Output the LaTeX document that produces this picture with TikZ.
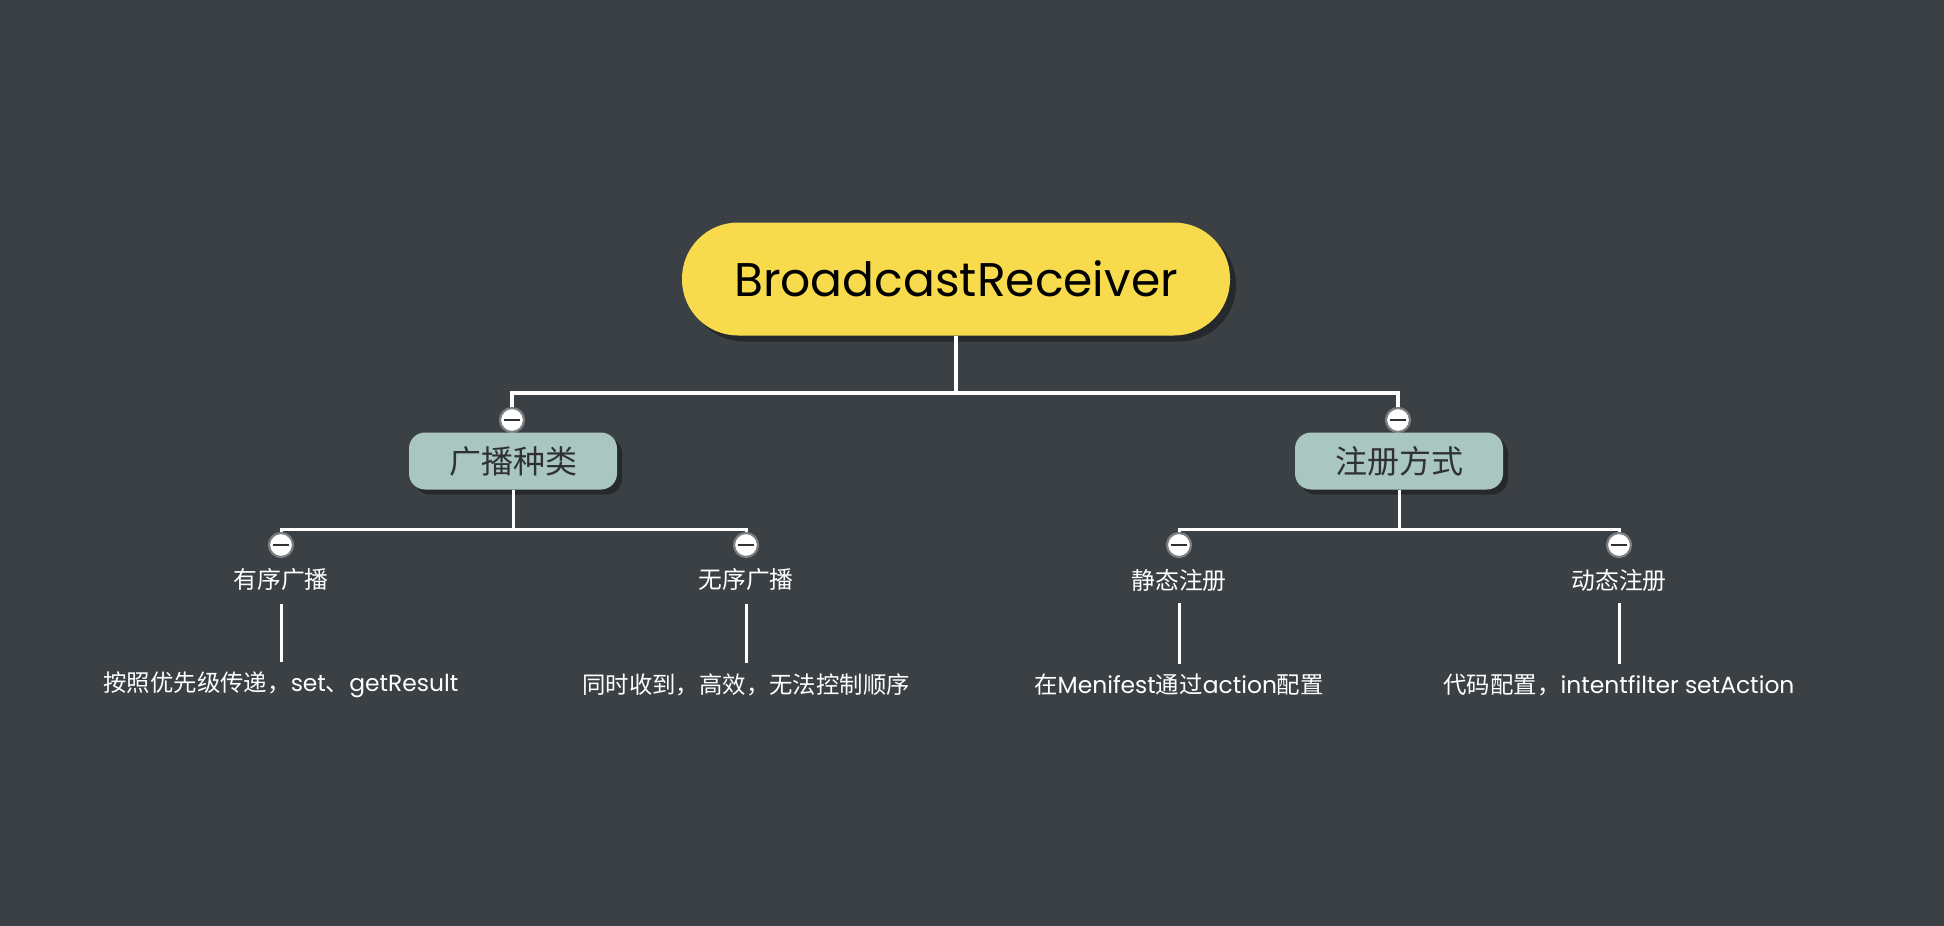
\documentclass[tikz,border=0pt]{standalone}
\usepackage{fontspec}
\setmainfont{Poppins}
\newfontfamily\cjk{Noto Sans CJK SC}
\usetikzlibrary{shadows}

\definecolor{bgcol}{HTML}{3B4044}
\definecolor{rootcol}{HTML}{F7DB4C}
\definecolor{topiccol}{HTML}{A9C6C1}
\definecolor{inkcol}{HTML}{2F3133}
\definecolor{knobline}{HTML}{7C7F82}

\tikzset{
  rootbox/.style={fill=rootcol, text=black, rounded corners=28pt,
    minimum width=274pt, minimum height=56.5pt,
    font=\fontsize{23.6}{27}\selectfont,
    drop shadow={shadow xshift=3pt, shadow yshift=-3pt, fill=black, opacity=0.35}},
  topicbox/.style={fill=topiccol, text=inkcol, rounded corners=8pt,
    minimum width=104pt, minimum height=28.5pt,
    font=\cjk\fontsize{16}{19}\selectfont,
    drop shadow={shadow xshift=2.5pt, shadow yshift=-2.5pt, fill=black, opacity=0.35}},
  subtopic/.style={text=white, inner sep=2pt, font=\cjk\fontsize{11.9}{14}\selectfont},
  leaftext/.style={text=white, inner sep=2pt, font=\fontsize{11.7}{14}\selectfont},
  knob/.style={circle, draw=knobline, fill=white, line width=1.1pt,
    minimum size=12pt, inner sep=0pt,
    path picture={\draw[inkcol, line width=1.2pt]
      ([xshift=-4.2pt]path picture bounding box.center) --
      ([xshift=4.2pt]path picture bounding box.center);}},
  branch/.style={draw=white, line width=2pt},
  twig/.style={draw=white, line width=1.5pt}
}

\begin{document}
\begin{tikzpicture}[x=0.5pt, y=-0.5pt]
    % Background
    \fill[bgcol] (0,0) rectangle (1944,926);
    \useasboundingbox (0,0) rectangle (1944,926);

    % Central topic
    \node[rootbox] (root) at (956,279) {BroadcastReceiver};

    % Main topics
    \node[knob] (k1) at (512,420) {};
    \node[knob] (k2) at (1398,420) {};
    \node[topicbox] (t1) at (513,461) {广播种类};
    \node[topicbox] (t2) at (1399,461) {注册方式};

    \coordinate (j0) at (956,393);
    \draw[branch] (root.south) -- (j0);
    \draw[branch] (k1.north) |- (j0) -| (k2.north);

    % Sub topics
    \node[knob] (k11) at (281,545) {};
    \node[knob] (k12) at (746,545) {};
    \node[knob] (k21) at (1179,545) {};
    \node[knob] (k22) at (1619,545) {};

    \node[subtopic] (s11) at (281,580) {有序广播};
    \node[subtopic] (s12) at (746,580) {无序广播};
    \node[subtopic] (s21) at (1179,580) {静态注册};
    \node[subtopic] (s22) at (1619,580) {动态注册};

    \coordinate (j1) at (513,529);
    \coordinate (j2) at (1399,529);
    \draw[twig] (t1.south) -- (j1);
    \draw[twig] (k11.north) |- (j1) -| (k12.north);
    \draw[twig] (t2.south) -- (j2);
    \draw[twig] (k21.north) |- (j2) -| (k22.north);

    % Details
    \node[leaftext] (l11) at (281,685) {{\cjk 按照优先级传递，}set{\cjk 、}getResult};
    \node[leaftext] (l12) at (746,685) {\cjk 同时收到，高效，无法控制顺序};
    \node[leaftext] (l21) at (1179,685) {{\cjk 在}Menifest{\cjk 通过}action{\cjk 配置}};
    \node[leaftext] (l22) at (1619,685) {{\cjk 代码配置，}intentfilter setAction};

    \draw[twig, shorten <=4pt, shorten >=3pt] (s11) -- (l11);
    \draw[twig, shorten <=4pt, shorten >=3pt] (s12) -- (l12);
    \draw[twig, shorten <=4pt, shorten >=3pt] (s21) -- (l21);
    \draw[twig, shorten <=4pt, shorten >=3pt] (s22) -- (l22);
\end{tikzpicture}
\end{document}
